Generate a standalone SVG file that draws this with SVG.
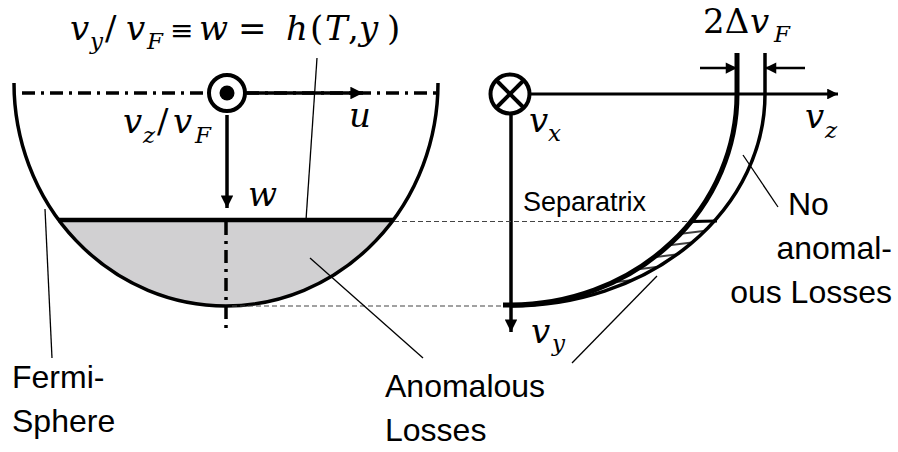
<svg xmlns="http://www.w3.org/2000/svg" width="898" height="452" viewBox="0 0 898 452">
<style>
.thick{fill:none;stroke:#000;stroke-width:3.5}
.lead{fill:none;stroke:#000;stroke-width:1.3}
.dashg{fill:none;stroke:#444;stroke-width:1.2;stroke-dasharray:5 3}
.dd{fill:none;stroke:#000;stroke-width:3.5;stroke-dasharray:13 6 3 6}
.lbl{font-family:"Liberation Sans","DejaVu Sans",sans-serif;font-size:32px;fill:#000}
.m{font-family:"DejaVu Serif","Liberation Serif",serif;font-style:italic;font-size:34px;fill:#000}
.mu{font-family:"DejaVu Serif","Liberation Serif",serif;font-size:34px;fill:#000}
.s{font-family:"DejaVu Serif","Liberation Serif",serif;font-style:italic;font-size:23px;fill:#000}
</style>
<defs>
<marker id="ah" viewBox="0 0 10 10" refX="10" refY="5" markerWidth="4" markerHeight="3.6" orient="auto" markerUnits="strokeWidth">
<path d="M0,0 L10,5 L0,10 Z" fill="#000"/>
</marker>
<marker id="ahs" viewBox="0 0 10 10" refX="10" refY="5" markerWidth="5" markerHeight="4.5" orient="auto" markerUnits="strokeWidth">
<path d="M0,0 L10,5 L0,10 Z" fill="#000"/>
</marker>
<pattern id="hatch" patternUnits="userSpaceOnUse" width="40" height="10" patternTransform="rotate(-7)">
<line x1="0" y1="5" x2="40" y2="5" stroke="#000" stroke-width="1.7"/>
</pattern>
</defs>
<rect width="898" height="452" fill="#fff"/>

<g id="fermi-sphere">
<path d="M59,220 L393,220 A212,223 0 0 1 59,220 Z" fill="#d1d0d2"/>
<path class="thick" d="M14,83 A212,223 0 0 0 438,83"/>
<line x1="58" y1="220" x2="394" y2="220" stroke="#000" stroke-width="4.5"/>
<line class="dd" x1="22" y1="93" x2="436" y2="93"/>
<line class="dd" x1="226" y1="222" x2="226" y2="328"/>
<circle cx="227" cy="93" r="18" fill="#fff" stroke="#000" stroke-width="4"/>
<circle cx="227" cy="93" r="7.5" fill="#000"/>
</g>

<g id="velocity-space">
<path d="M691.5,221 L714.4,221 A254,212 0 0 1 511,306 L511,305 A226,211 0 0 0 691.5,221 Z" fill="url(#hatch)"/>
<path fill="none" stroke="#000" stroke-width="5" d="M737,53 L737,94 A226,211 0 0 1 511,305 L503,305"/>
<path fill="none" stroke="#000" stroke-width="3.5" d="M765,53 L765,94 A254,212 0 0 1 511,306"/>
<line x1="690" y1="221.5" x2="717" y2="221" stroke="#000" stroke-width="3"/>
<circle cx="510" cy="94" r="19.5" fill="#fff" stroke="#000" stroke-width="4"/>
<line x1="496" y1="80" x2="524" y2="108" stroke="#000" stroke-width="4"/>
<line x1="524" y1="80" x2="496" y2="108" stroke="#000" stroke-width="4"/>
</g>

<g id="connectors">
<line x1="247" y1="93" x2="363" y2="93" stroke="#000" stroke-width="3.5" marker-end="url(#ah)"/>
<line x1="227" y1="115" x2="227" y2="208" stroke="#000" stroke-width="3.5" marker-end="url(#ah)"/>
<line x1="531" y1="94" x2="838" y2="94" stroke="#000" stroke-width="3" marker-end="url(#ah)"/>
<line x1="511" y1="114" x2="511" y2="332" stroke="#000" stroke-width="3.5" marker-end="url(#ah)"/>
<line x1="700" y1="68" x2="737" y2="68" stroke="#000" stroke-width="2.5" marker-end="url(#ahs)"/>
<line x1="805" y1="68" x2="765" y2="68" stroke="#000" stroke-width="2.5" marker-end="url(#ahs)"/>
<line class="dashg" x1="394" y1="221.5" x2="690" y2="221.5"/>
<line class="dashg" x1="232" y1="306" x2="503" y2="306"/>
<line class="lead" x1="317" y1="58" x2="306" y2="220"/>
<line class="lead" x1="45" y1="209" x2="52" y2="358"/>
<line class="lead" x1="310" y1="258" x2="423" y2="358"/>
<line class="lead" x1="572" y1="363" x2="657" y2="276"/>
<line class="lead" x1="743" y1="155" x2="778" y2="207"/>
</g>

<g id="label-formula">
<text class="m" x="70" y="40">v</text>
<text class="s" x="90" y="49">y</text>
<text class="mu" x="105" y="40">/</text>
<text class="m" x="126" y="40">v</text>
<text class="s" x="147" y="49">F</text>
<text class="mu" x="170" y="40" style="font-size:28px">≡</text>
<text class="m" x="199" y="40">w</text>
<text class="mu" x="238" y="40">=</text>
<text class="m" x="286" y="40">h</text>
<text class="mu" x="310" y="40">(</text>
<text class="m" x="325" y="40">T</text>
<text class="mu" x="348" y="40">,</text>
<text class="m" x="359" y="40">y</text>
<text class="mu" x="387" y="40">)</text>
</g>
<g id="label-vz-vf">
<text class="m" x="123" y="133">v</text>
<text class="s" x="143" y="143">z</text>
<text class="mu" x="157" y="133">/</text>
<text class="m" x="173" y="133">v</text>
<text class="s" x="195" y="143">F</text>
</g>
<g id="label-u"><text class="m" x="349" y="127">u</text></g>
<g id="label-w"><text class="m" x="248" y="206">w</text></g>
<g id="label-vx">
<text class="m" x="529" y="132">v</text>
<text class="s" x="548" y="141">x</text>
</g>
<g id="label-vz">
<text class="m" x="805" y="128">v</text>
<text class="s" x="825" y="138">z</text>
</g>
<g id="label-vy">
<text class="m" x="531" y="343">v</text>
<text class="s" x="552" y="351">y</text>
</g>
<g id="label-delta">
<text class="mu" x="703" y="33">2Δ</text>
<text class="m" x="750" y="33">v</text>
<text class="s" x="774" y="42">F</text>
</g>
<g id="label-separatrix"><text class="lbl" x="523" y="211" style="font-size:27px">Separatrix</text></g>
<g id="label-fermi">
<text class="lbl" x="12" y="388">Fermi-</text>
<text class="lbl" x="12" y="432">Sphere</text>
</g>
<g id="label-anomalous">
<text class="lbl" x="385" y="397">Anomalous</text>
<text class="lbl" x="385" y="441">Losses</text>
</g>
<g id="label-no-anomalous">
<text class="lbl" x="788" y="215">No</text>
<text class="lbl" x="892" y="259" text-anchor="end">anomal-</text>
<text class="lbl" x="892" y="303" text-anchor="end">ous Losses</text>
</g>
</svg>
